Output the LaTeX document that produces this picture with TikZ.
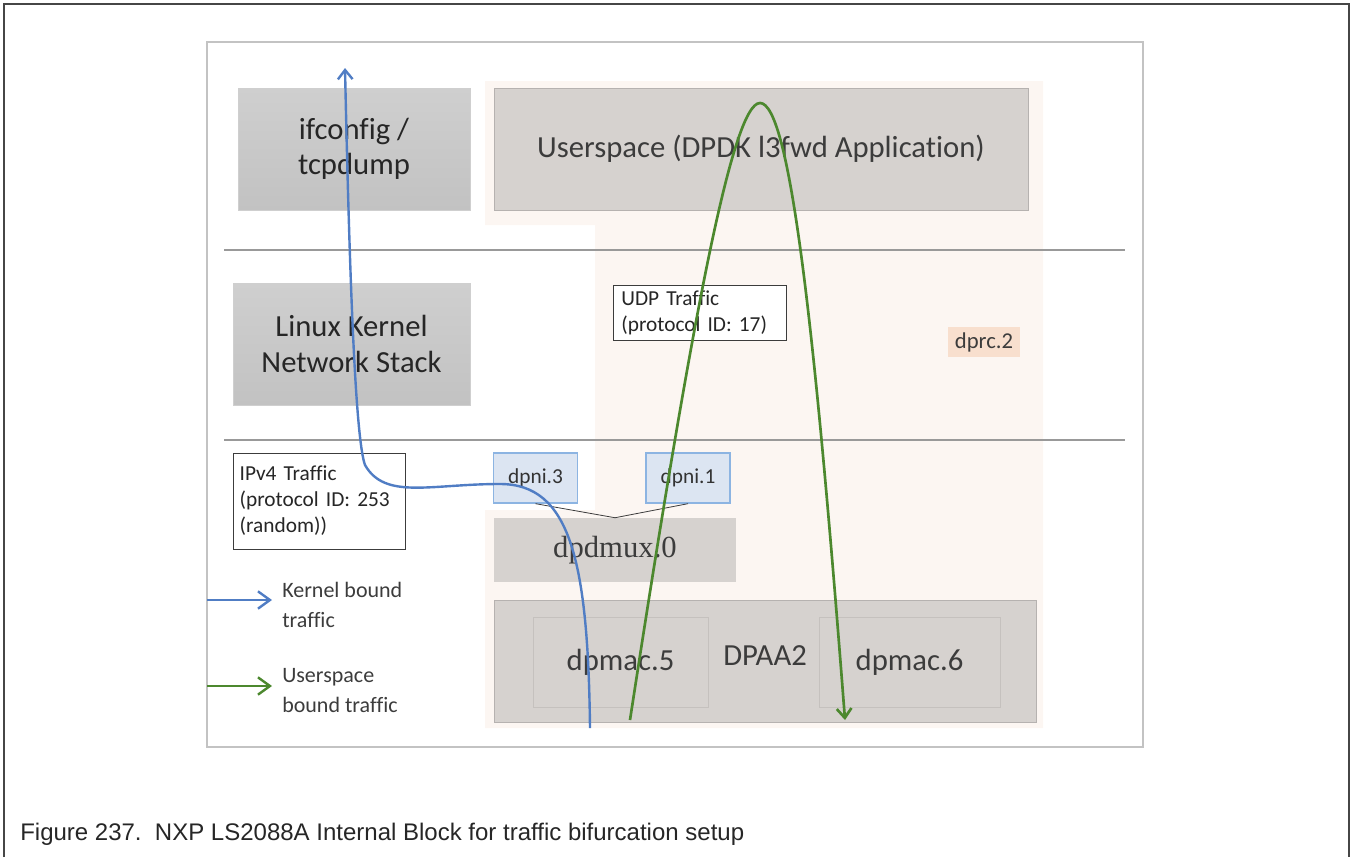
\documentclass[tikz,border=0pt]{standalone}
\usepackage{fontspec}
\setmainfont{Carlito}[Ligatures=NoCommon]
\newfontfamily\capfont{Liberation Sans}
\newfontfamily\muxfont{Liberation Serif}
\usetikzlibrary{arrows.meta}

\definecolor{cadre}{RGB}{70,70,70}
\definecolor{bordgris}{RGB}{195,195,195}
\definecolor{rose}{RGB}{252,246,242}
\definecolor{grishaut}{RGB}{207,207,207}
\definecolor{grisbas}{RGB}{194,194,194}
\definecolor{grischaud}{RGB}{214,210,207}
\definecolor{bleuclair}{RGB}{220,229,242}
\definecolor{bleubord}{RGB}{140,180,226}
\definecolor{peche}{RGB}{248,223,206}
\definecolor{noyau}{RGB}{80,125,196}
\definecolor{usager}{RGB}{76,136,46}
\definecolor{texte}{RGB}{60,60,60}

\begin{document}
\begin{tikzpicture}[
x=0.75pt,y=-0.75pt,
bloc/.style={draw=bordgris!80,top color=grishaut,bottom color=grisbas,text=black!85,align=center,inner sep=0pt,font=\fontsize{23}{26.5}\selectfont},
blocchaud/.style={draw=grischaud!85!black,fill=grischaud,text=texte,align=center,inner sep=0pt,font=\fontsize{23}{26.5}\selectfont},
note/.style={draw=texte,fill=white,text=black!85,align=left,inner ysep=3pt,font=\fontsize{16}{19.5}\selectfont},
dpni/.style={draw=bleubord,line width=1pt,fill=bleuclair,text=black!80,inner sep=0pt,minimum width=63pt,minimum height=37.5pt,font=\fontsize{16}{18}\selectfont},
legende/.style={align=left,text=texte,inner sep=0pt,font=\fontsize{16.5}{22.5}\selectfont},
fleche/.style={line width=1.8pt,-{Straight Barb[length=7pt,width=11pt]}}
]

\useasboundingbox (0,0) rectangle (1351,857);

% Cadre
\draw[cadre,line width=2pt]
(4,857)
--
(4,4)
--
(1349,4)
--
(1349,857);

\draw[bordgris,line width=1.2pt]
(207,42)
rectangle
(1143,747);

% dprc.2
\fill[rose]
(485,81) -- (1043,81) -- (1043,728) -- (485,728)
-- (485,510) -- (595,510) -- (595,225) -- (485,225) -- cycle;

% Separations
\draw[gray!80,line width=1pt]
(224,250)
--
(1125,250);

\draw[gray!80,line width=1pt]
(224,440)
--
(1125,440);

% Blocs
\node[bloc,minimum width=174pt,minimum height=91.5pt] (ifc) at (354,149)
{ifconfig /\\tcpdump};

\node[blocchaud,minimum width=400.5pt,minimum height=91.5pt] (user) at (761,149)
{Userspace (DPDK l3fwd Application)};

\node[bloc,minimum width=177.75pt,minimum height=91.5pt] (kern) at (351.5,344)
{Linux Kernel\\Network Stack};

\node[note,text width=118pt,inner xsep=6pt,minimum height=41.25pt] (udp) at (700,312.5)
{UDP Traffic\\(protocol ID: 17)};

\node[fill=peche,text=texte,inner sep=0pt,minimum width=54pt,minimum height=22.5pt,font=\fontsize{17}{20}\selectfont] (dprc) at (984,342)
{dprc.2};

\node[note,text width=119pt,inner xsep=5pt,minimum height=72pt] (ipv4) at (319,501)
{IPv4 Traffic\\(protocol ID: 253\\(random))};

% dpni
\node[dpni] (dpnitrois) at (535.5,478)
{dpni.3};

\node[dpni] (dpniun) at (688,478)
{dpni.1};

% dpdmux
\node[blocchaud,draw=none,minimum width=181.5pt,minimum height=48pt,font=\muxfont\fontsize{23}{26}\selectfont] (mux) at (615,550)
{dpdmux.0};

\draw[texte,line width=0.6pt]
(dpnitrois.south)
--
(mux.north)
--
(dpniun.south);

% DPAA2
\node[blocchaud,minimum width=406.5pt,minimum height=91.5pt] (dpaa) at (765,661)
{};

\node[blocchaud,draw=grischaud!92!black,minimum width=131.25pt,minimum height=67.5pt] (macc) at (620.5,662)
{dpmac.5};

\node[blocchaud,draw=grischaud!92!black,minimum width=135.75pt,minimum height=67.5pt] (macs) at (909.5,662)
{dpmac.6};

\node[text=texte,font=\fontsize{23}{26}\selectfont] (dpaatxt) at (765,656)
{DPAA2};

% Trafic noyau
\coordinate (kdep) at (590,728);
\coordinate (kvia) at (500,484);
\coordinate (kfin) at (345,68);

\draw[fleche,noyau]
(kdep)
.. controls (588,560) and (570,484) ..
(kvia)
.. controls (430,484) and (385,500) ..
(365,465)
.. controls (356,440) and (350,300) ..
(kfin);

% Trafic userspace
\coordinate (udep) at (630,720);
\coordinate (usommet) at (760,103);
\coordinate (ufin) at (845,720);

\draw[fleche,usager,line width=2pt]
(udep)
.. controls (690,330) and (732,103) ..
(usommet)
.. controls (790,103) and (815,330) ..
(ufin);

% Legende
\node[legende,anchor=north west] (kleg) at (282,582)
{Kernel bound\\traffic};

\node[legende,anchor=north west] (uleg) at (282,668)
{Userspace\\bound traffic};

\coordinate (kdebut) at (207,600);
\coordinate (udebut) at (207,686);

\draw[noyau,line width=1.8pt,shorten >=7.5pt,-{Straight Barb[length=9pt,width=13pt]}]
(kdebut)
--
(kdebut -| kleg.west);

\draw[usager,line width=1.8pt,shorten >=7.5pt,-{Straight Barb[length=9pt,width=13pt]}]
(udebut)
--
(udebut -| uleg.west);

% Legende figure
\node[anchor=base west,text=black!85,inner sep=0pt,font=\capfont\fontsize{18}{20}\selectfont] (titre) at (20,840)
{Figure 237.\ \ NXP LS2088A Internal Block for traffic bifurcation setup};

\end{tikzpicture}
\end{document}
